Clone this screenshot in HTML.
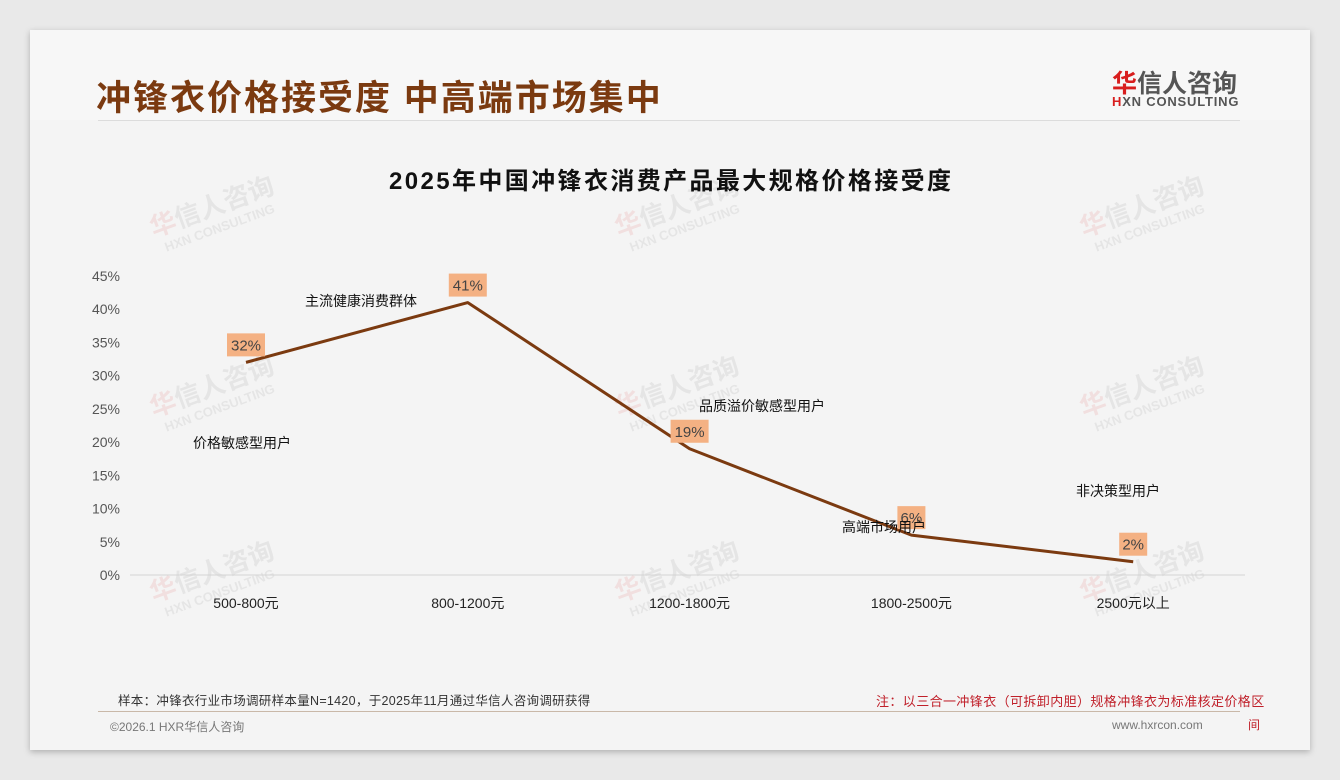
<!DOCTYPE html>
<html><head><meta charset="utf-8">
<style>
*{margin:0;padding:0;box-sizing:border-box}
body{width:1340px;height:780px;background:#e9e9e9;font-family:"Liberation Sans","Noto Sans CJK SC",sans-serif;position:relative;overflow:hidden}
#card{position:absolute;left:30px;top:30px;width:1280px;height:720px;background:#f4f4f4;box-shadow:0 2px 6px rgba(0,0,0,.25)}
.abs{position:absolute;white-space:nowrap}
</style></head><body>
<div id="card">
  <div class="abs" style="left:0;top:0;width:1280px;height:90px;background:#f7f7f7"></div>
  <div class="abs" style="left:66px;top:40px;font-size:35px;font-weight:bold;color:#7b3a10;letter-spacing:2px">冲锋衣价格接受度 中高端市场集中</div>
  <div class="abs" style="left:68px;top:90px;width:1142px;height:1px;background:#dcdcdc"></div>
  <div class="abs" style="left:1082px;top:34px;font-size:25px;font-weight:bold;color:#555"><span style="color:#d81e1e">华</span>信人咨询</div>
  <div class="abs" style="left:1082px;top:64px;font-size:13px;font-weight:bold;color:#555;letter-spacing:.8px"><span style="color:#d81e1e">H</span>XN CONSULTING</div>
  <div class="abs" style="left:88px;top:660px;font-size:12.5px;color:#333;letter-spacing:.3px">样本：冲锋衣行业市场调研样本量N=1420，于2025年11月通过华信人咨询调研获得</div>
  <div class="abs" style="left:846px;top:661px;font-size:13px;color:#c0202a;letter-spacing:.4px">注：以三合一冲锋衣（可拆卸内胆）规格冲锋衣为标准核定价格区</div>
  <div class="abs" style="left:1218px;top:686px;font-size:12px;color:#c0202a">间</div>
  <div class="abs" style="left:68px;top:681px;width:1142px;height:1px;background:#c9b8a8"></div>
  <div class="abs" style="left:80px;top:688px;font-size:12px;color:#777">©2026.1 HXR华信人咨询</div>
  <div class="abs" style="left:1082px;top:688px;font-size:12px;color:#777">www.hxrcon.com</div>
</div>
<svg id="chart" width="1340" height="780" style="position:absolute;left:0;top:0">
  <g id="wm"></g>
  <text x="670" y="189" text-anchor="middle" font-size="24" font-weight="bold" fill="#111" textLength="562">2025年中国冲锋衣消费产品最大规格价格接受度</text>
  <g id="yaxis"></g><g id="xaxis"></g><g id="series"></g><g id="annot"></g>
</svg>
<script>
const categories=["500-800元","800-1200元","1200-1800元","1800-2500元","2500元以上"];
const values=[32,41,19,6,2];
const yTicks=[0,5,10,15,20,25,30,35,40,45];
const groupLabels=["价格敏感型用户","主流健康消费群体","品质溢价敏感型用户","高端市场用户","非决策型用户"];
const NS="http://www.w3.org/2000/svg";
function mk(t,a,p){const e=document.createElementNS(NS,t);for(const k in a)e.setAttribute(k,a[k]);p.appendChild(e);return e;}
const y=v=>575-v*(299/45);
const x=i=>246+i*221.8;
const ya=document.getElementById('yaxis');
yTicks.forEach(t=>{const e=mk('text',{x:120,y:y(t)+5,'text-anchor':'end','font-size':14,fill:'#555'},ya);e.textContent=t+'%';

});
const xa=document.getElementById('xaxis');
const al=mk('line',{x1:130,x2:1245,y1:y(0),y2:y(0),stroke:'#d4d4d4','stroke-width':1},xa);


categories.forEach((c,i)=>{const e=mk('text',{x:x(i),y:608,'text-anchor':'middle','font-size':14,fill:'#222'},xa);e.textContent=c;

});
const s=document.getElementById('series');
const ln=mk('polyline',{points:values.map((v,i)=>x(i)+','+y(v)).join(' '),fill:'none',stroke:'#7b3a10','stroke-width':3,'stroke-linejoin':'round'},s);


values.forEach((v,i)=>{const w=String(v).length>1?38:28;
const r=mk('rect',{x:x(i)-w/2,y:y(v)-29,width:w,height:23,fill:'#f4b183'},s);


const t=mk('text',{x:x(i),y:y(v)-12,'text-anchor':'middle','font-size':15,fill:'#444'},s);t.textContent=v+'%';

});
const an=document.getElementById('annot');
const apos=[[242,448],[361,306],[762,411],[884,532],[1118,496]];
groupLabels.forEach((g,i)=>{const t=mk('text',{x:apos[i][0],y:apos[i][1],'text-anchor':'middle','font-size':14,fill:'#111'},an);t.textContent=g;

});
const wm=document.getElementById('wm');
[[215,215],[680,215],[1145,215],[215,395],[680,395],[1145,395],[215,580],[680,580],[1145,580]].forEach(p=>{
const g=mk('g',{transform:`translate(${p[0]},${p[1]}) rotate(-20)`,opacity:.09},wm);


const a=mk('text',{x:0,y:0,'text-anchor':'middle','font-size':26,'font-weight':'bold',fill:'#555'},g);a.innerHTML='<tspan fill="#d81e1e">华</tspan>信人咨询';
const b=mk('text',{x:0,y:18,'text-anchor':'middle','font-size':13,'font-weight':'bold',fill:'#555'},g);b.textContent='HXN CONSULTING';});
</script>
</body></html>
